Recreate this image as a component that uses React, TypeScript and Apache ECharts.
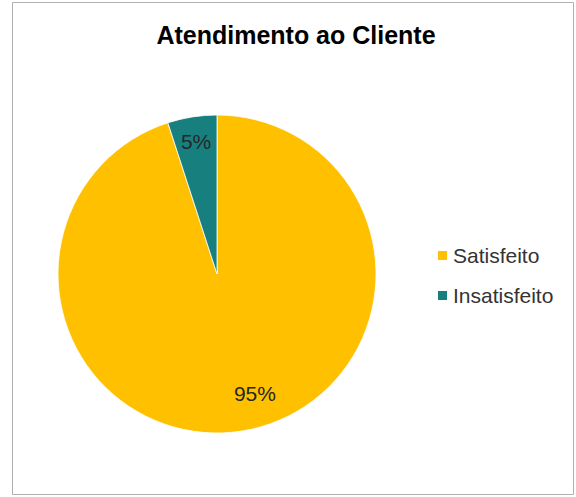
import React, { useEffect, useRef } from "react";
import * as echarts from "echarts";

const titleText = "Atendimento ao Cliente";
const categories = ["Satisfeito", "Insatisfeito"];
const values = [95, 5];
const colors = ["#FFC000", "#17807E"];

// label nudges (px) relative to ECharts' default inside position
const labelNudges = [
  [25, 38],
  [-8, -51],
];

export default function App() {
  const ref = useRef<HTMLDivElement>(null);
  useEffect(() => {
    if (!ref.current) return;
    const chart = echarts.init(ref.current, undefined, { renderer: "svg" });
    chart.setOption({
      animation: false,
      backgroundColor: "#ffffff",
      title: {
        text: titleText,
        left: 296,
        top: 22,
        padding: 0,
        textAlign: "center",
        textStyle: {
          fontFamily: "Liberation Sans, Arial, sans-serif",
          fontWeight: "bold",
          fontSize: 25,
          color: "#000000",
        },
      },
      legend: {
        orient: "vertical",
        left: 436,
        top: 245,
        padding: 0,
        itemWidth: 11,
        itemHeight: 11,
        itemGap: 19,
        icon: "rect",
        data: categories,
        textStyle: {
          fontFamily: "Liberation Sans, Arial, sans-serif",
          fontSize: 21,
          lineHeight: 21,
          color: "#333333",
        },
      },
      graphic: [
        {
          type: "rect",
          silent: true,
          z: -1,
          shape: { x: 12.5, y: 2.5, width: 561, height: 492 },
          style: { fill: "none", stroke: "#b0b0b0", lineWidth: 1 },
        },
      ],
      series: [
        {
          type: "pie",
          center: [217, 274],
          radius: [0, 159],
          startAngle: 90,
          clockwise: true,
          silent: true,
          data: categories.map((name, i) => ({
            name,
            value: values[i],
            itemStyle: { color: colors[i] },
          })),
          itemStyle: { borderColor: "#ffffff", borderWidth: 0.8 },
          label: {
            show: true,
            position: "inside",
            formatter: (p: any) => `${p.value}%`,
            fontFamily: "Liberation Sans, Arial, sans-serif",
            fontSize: 21,
            color: "#262626",
          },
          labelLine: { show: false },
          labelLayout: (p: any) => ({
            dx: labelNudges[p.dataIndex][0],
            dy: labelNudges[p.dataIndex][1],
          }),
        },
      ],
    });
    return () => chart.dispose();
  }, []);
  return (
    <div
      ref={ref}
      style={{ position: "fixed", left: 0, top: 0, width: 576, height: 497 }}
    />
  );
}
